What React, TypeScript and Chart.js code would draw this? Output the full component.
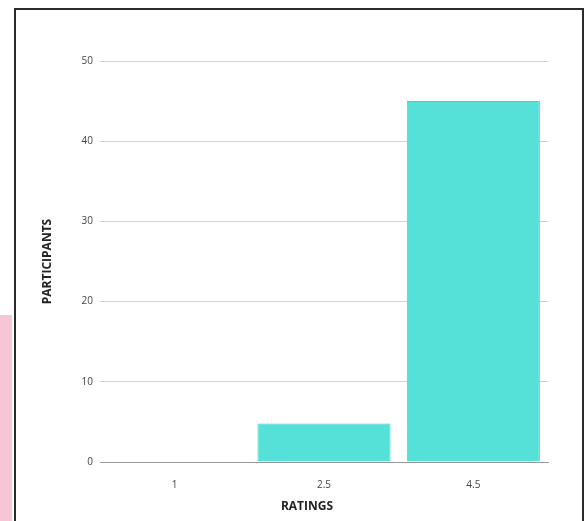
import React, { useEffect, useRef } from "react";
import { Chart, registerables } from "chart.js";

Chart.register(...registerables);

const categories = ["1", "2.5", "4.5"];
const participants = [0, 4.8, 45];
const yTicks = [0, 10, 20, 30, 40, 50];

const xTitlePlugin = {
  id: "xTitle",
  afterDraw(chart: any) {
    const { ctx, chartArea } = chart;
    ctx.save();
    ctx.font = "bold 12px 'Open Sans', 'DejaVu Sans', sans-serif";
    ctx.fillStyle = "#222";
    ctx.textAlign = "center";
    ctx.textBaseline = "middle";
    ctx.fillText("RATINGS", chartArea.left + 207, chartArea.bottom + 45);
    ctx.restore();
  },
};

export default function App() {
  const ref = useRef<HTMLCanvasElement>(null);
  useEffect(() => {
    if (!ref.current) return;
    const chart = new Chart(ref.current, {
      type: "bar",
      data: {
        labels: categories,
        datasets: [
          {
            label: "Participants",
            data: participants,
            backgroundColor: "#55e0d8",
            borderColor: "#3fd6cc",
            borderWidth: 1,
            barPercentage: 0.9,
            categoryPercentage: 0.99,
          },
        ],
      },
      options: {
        responsive: false,
        animation: false,
        layout: { padding: { top: 51, right: 33, left: 0, bottom: 0 } },
        plugins: { legend: { display: false }, tooltip: { enabled: false } },
        scales: {
          x: {
            grid: { display: false },
            border: { display: true, color: "#999", width: 1 },
            ticks: {
              color: "#444",
              font: { size: 10, family: "'Open Sans', 'DejaVu Sans', sans-serif" },
              padding: 9,
            },
            afterFit(scale: any) {
              scale.height = 59;
            },
          },
          y: {
            min: 0,
            max: 50,
            afterBuildTicks(scale: any) {
              scale.ticks = yTicks.map((v) => ({ value: v }));
            },
            grid: {
              color: (c: any) => (c.tick && c.tick.value === 0 ? "#999" : "#cfcfcf"),
              drawTicks: false,
            },
            border: { display: false },
            ticks: {
              color: "#444",
              padding: 7,
              font: { size: 10, family: "'Open Sans', 'DejaVu Sans', sans-serif" },
            },
            title: {
              display: true,
              text: "PARTICIPANTS",
              color: "#222",
              font: { size: 12, weight: "bold", family: "'Open Sans', 'DejaVu Sans', sans-serif" },
              padding: { top: 24, bottom: 0 },
            },
            afterFit(scale: any) {
              scale.width = 84;
            },
          },
        },
      },
      plugins: [xTitlePlugin],
    });
    return () => chart.destroy();
  }, []);

  return (
    <div
      style={{
        position: "fixed",
        left: 0,
        top: 0,
        width: 587,
        height: 521,
        background: "#fff",
        overflow: "hidden",
      }}
    >
      <div
        style={{
          position: "absolute",
          left: 0,
          top: 315,
          width: 12,
          height: 206,
          background: "#f7c6d6",
        }}
      />
      <div
        style={{
          position: "absolute",
          left: 14,
          top: 8,
          width: 570,
          height: 530,
          border: "2px solid #2a2a2a",
          boxSizing: "border-box",
        }}
      />
      <canvas
        ref={ref}
        width={565}
        height={511}
        style={{ position: "absolute", left: 16, top: 10, width: 565, height: 511 }}
      />
    </div>
  );
}
